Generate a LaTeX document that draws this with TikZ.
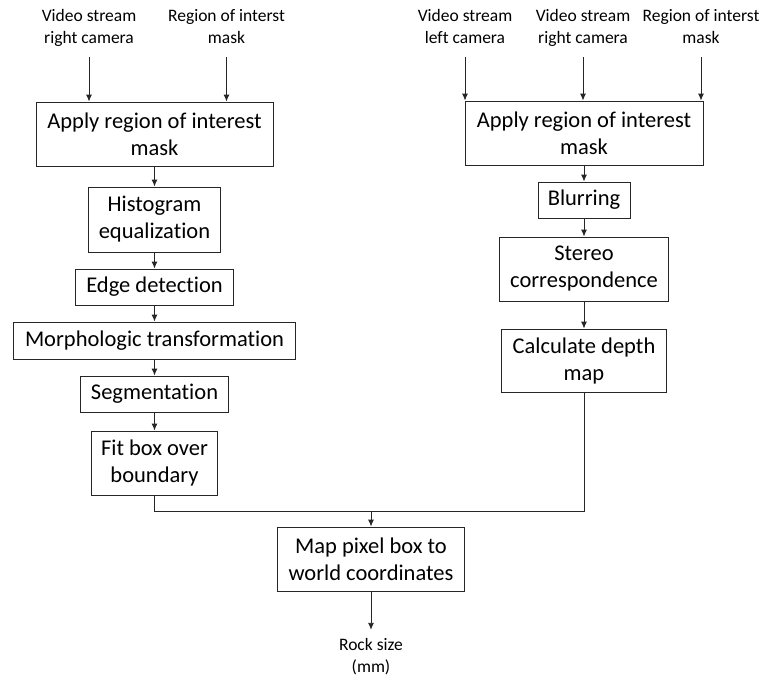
\documentclass[tikz,border=0pt]{standalone}
\usepackage{fontspec}
\setmainfont{Carlito}[Ligatures=NoCommon]
\usetikzlibrary{arrows.meta}
\begin{document}
\begin{tikzpicture}[x=1pt,y=-1pt,
  proc/.style={draw=black!85,line width=0.9pt,inner sep=0pt,align=center,
    font=\fontsize{22.5}{27}\selectfont},
  lbl/.style={inner sep=0pt,align=center,font=\fontsize{17.5}{22}\selectfont},
  arr/.style={draw=black!85,line width=0.9pt,-{Latex[length=7pt,width=6pt]}},
  wire/.style={draw=black!85,line width=0.9pt}]
\useasboundingbox (0,0) rectangle (763,677);

% left branch: region of interest and contour pipeline
\node[lbl] (lvid) at (89,28) {\strut Video stream\\right camera\strut};
\node[lbl] (lroim) at (226.5,28) {\strut Region of interst\\mask\strut};
\node[proc,minimum width=237,minimum height=64] (lroi) at (154.5,134) {Apply region of interest\\mask};
\node[proc,minimum width=132,minimum height=65] (hist) at (154.5,219.5) {Histogram\\equalization};
\node[proc,minimum width=158,minimum height=36] (edge) at (154.5,287) {Edge detection};
\node[proc,minimum width=282,minimum height=37] (morph) at (154.5,340.5) {Morphologic transformation};
\node[proc,minimum width=148,minimum height=36] (seg) at (154.5,394) {Segmentation};
\node[proc,minimum width=126,minimum height=64] (fit) at (154.5,463) {Fit box over\\boundary};

% right branch: stereo depth pipeline
\node[lbl] (rleft) at (465,28) {\strut Video stream\\left camera\strut};
\node[lbl] (rright) at (583,28) {\strut Video stream\\right camera\strut};
\node[lbl] (rroim) at (701,28) {\strut Region of interst\\mask\strut};
\node[proc,minimum width=238,minimum height=64] (rroi) at (584,133) {Apply region of interest\\mask};
\node[proc,minimum width=92,minimum height=36] (blur) at (584,200) {Blurring};
\node[proc,minimum width=169,minimum height=64] (stereo) at (584,269) {Stereo\\correspondence};
\node[proc,minimum width=165,minimum height=63] (depth) at (584,360.5) {Calculate depth\\map};

% merge and output
\coordinate (join) at (371,511);
\node[proc,minimum width=187,minimum height=64] (map) at (371,559) {Map pixel box to\\world coordinates};
\node[lbl] (rock) at (371,657) {\strut Rock size\\(mm)\strut};

% inputs
\foreach \s/\t in {lvid/lroi,lroim/lroi,rleft/rroi,rright/rroi,rroim/rroi}
  \draw[arr,shorten <=7pt] (\s.south) -- (\s.south |- \t.north);

% chains
\draw[arr] (lroi) -- (hist);
\draw[arr] (hist) -- (edge);
\draw[arr] (edge) -- (morph);
\draw[arr] (morph) -- (seg);
\draw[arr] (seg) -- (fit);
\draw[arr] (rroi) -- (blur);
\draw[arr] (blur) -- (stereo);
\draw[arr] (stereo) -- (depth);

\draw[wire] (fit.south) |- (join);
\draw[wire] (depth.south) |- (join);
\draw[arr] (join) -- (map.north);
\draw[arr] (map.south) -- ([yshift=5pt]rock.north);
\end{tikzpicture}
\end{document}
